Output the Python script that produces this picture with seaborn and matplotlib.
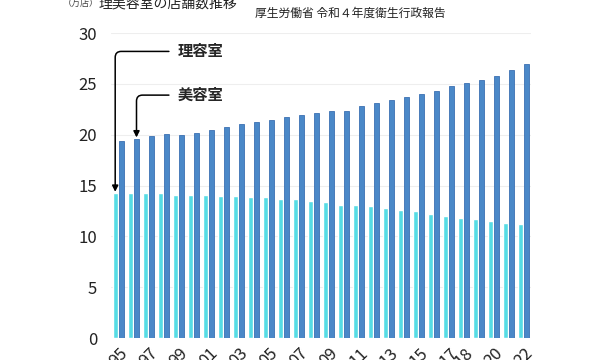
import pandas as pd
import matplotlib.pyplot as plt
import seaborn as sns

# data (unit: 10,000 shops)
years = list(range(1995, 2023))
barber = [14.25, 14.25, 14.3, 14.3, 14.1, 14.1, 14.05, 14.0, 14.0, 13.9,
          13.85, 13.7, 13.65, 13.5, 13.4, 13.05, 13.1, 13.0, 12.8, 12.6,
          12.45, 12.2, 12.05, 11.85, 11.7, 11.5, 11.35, 11.2]
beauty = [19.4, 19.6, 19.9, 20.1, 20.0, 20.2, 20.5, 20.8, 21.05, 21.3,
          21.5, 21.75, 21.95, 22.1, 22.35, 22.3, 22.85, 23.1, 23.4, 23.7,
          24.0, 24.3, 24.75, 25.1, 25.4, 25.8, 26.4, 26.95]
shown_years = [1995, 1997, 1999, 2001, 2003, 2005, 2007, 2009, 2011, 2013,
               2015, 2017, 2018, 2020, 2022]

df = pd.DataFrame({
    'year': years * 2,
    'value': barber + beauty,
    'kind': ['理容室'] * len(years) + ['美容室'] * len(years),
})

sns.set_style('white')
plt.rcParams['font.family'] = ['Noto Sans CJK JP', 'DejaVu Sans']

fig = plt.figure(figsize=(6, 3.6), dpi=100)
ax = fig.add_axes([0.185, 0.061, 0.70, 0.847])

sns.barplot(data=df, x='year', y='value', hue='kind',
            palette=['#56dce4', '#4a88c8'], width=0.8, gap=0.1,
            saturation=1, legend=False, ax=ax)
for patch in ax.patches[len(years):]:
    patch.set_edgecolor('#3b70b2')
    patch.set_linewidth(0.6)

ax.set_ylim(0, 30)
ax.set_xlim(-0.5, len(years) - 0.5)
ax.set_yticks([0, 5, 10, 15, 20, 25, 30])
ax.yaxis.grid(True, color='#eeeeee', linewidth=0.8)
ax.set_axisbelow(True)
ax.tick_params(axis='y', length=0, pad=10, labelsize=12, labelcolor='#222222')
tick_pos = [years.index(y) for y in shown_years]
ax.set_xticks(tick_pos)
ax.set_xticklabels([str(y)[2:] for y in shown_years], rotation=45, ha='center')
ax.tick_params(axis='x', length=0, pad=5, labelsize=12, labelcolor='#222222')
ax.set_xlabel('')
ax.set_ylabel('')
sns.despine(ax=ax, left=True, bottom=True)

# callouts
arrow = dict(arrowstyle='-|>', color='black', lw=1.1, mutation_scale=9,
             shrinkA=4, shrinkB=1, relpos=(0, 0.5),
             connectionstyle='angle,angleA=0,angleB=90,rad=6')
ax.annotate('理容室', xy=(-0.22, barber[0]), xytext=(3.95, 28.2),
            fontsize=11, fontweight='bold', ha='left', va='center',
            arrowprops=arrow)
ax.annotate('美容室', xy=(1.2, beauty[1]), xytext=(3.95, 23.9),
            fontsize=11, fontweight='bold', ha='left', va='center',
            arrowprops=arrow)

fig.text(0.135, 0.99, '（万店）', fontsize=6.5, color='#444444', ha='center', va='center')
fig.text(0.165, 0.99, '理美容室の店舗数推移', fontsize=10, color='#222222', ha='left', va='center')
fig.text(0.425, 0.963, '厚生労働省 令和４年度衛生行政報告', fontsize=8.5, color='#222222',
         ha='left', va='center')

fig.savefig('out.png', dpi=100)
